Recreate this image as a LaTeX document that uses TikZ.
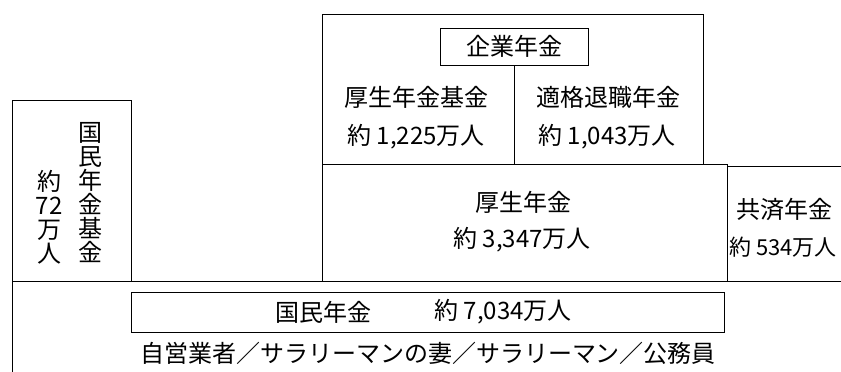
\documentclass[tikz,border=0pt]{standalone}
\usepackage{fontspec}
\setmainfont{Noto Sans CJK JP}
\usepackage{graphicx}
\tikzset{
  frame/.style={draw=black, line width=1pt},
  lbl/.style={inner sep=0pt, font=\fontsize{24}{24}\selectfont},
  labelbox/.style={draw=black, line width=1pt, inner sep=0pt,
    minimum width=148pt, minimum height=37pt, font=\fontsize{24}{24}\selectfont},
}
\begin{document}
\begin{tikzpicture}[x=1pt,y=-1pt]
\useasboundingbox (0,0) rectangle (841,372);
% frames
\draw[frame] (322,14) rectangle (703,164);
\node[labelbox] (kigyo) at (514,46.5) {企業年金};
\coordinate (divend) at (514,164);
\draw[frame] (kigyo.south) -- (divend);
\draw[frame] (322,164) rectangle (727,281);
\draw[frame] (727,166) -- (841,166);
\draw[frame] (12,100) rectangle (131,281);
\draw[frame] (12,281) -- (841,281);
\draw[frame] (12,281) -- (12,372);
\draw[frame] (131,292) rectangle (724,332);
% texts
\node[lbl] (kjn) at (416,97) {厚生年金基金};
\node[lbl] (kjnn) at (416,137) {約 1,225万人};
\node[lbl] (tk) at (608,97) {適格退職年金};
\node[lbl] (tkn) at (607,137) {約 1,043万人};
\node[lbl] (ks) at (523,202) {厚生年金};
\node[lbl] (ksn) at (522,240) {約 3,347万人};
\node[lbl] (kyo) at (784,209) {共済年金};
\node[lbl, font=\fontsize{22}{24}\selectfont] (kyon) at (783,247) {約 534万人};
\node[lbl] (km) at (323,312) {国民年金};
\node[lbl] (kmn) at (503,312) {約 7,034万人};
\node[lbl] (bottom) at (428,353) {自営業者／サラリーマンの妻／サラリーマン／公務員};
\node[lbl, align=center] (kkk) at (90,193) {国\\民\\年\\金\\基\\金};
\node[lbl, align=center] (kkkn) at (49,217) {約\\72\\万\\人};
\end{tikzpicture}
\end{document}
